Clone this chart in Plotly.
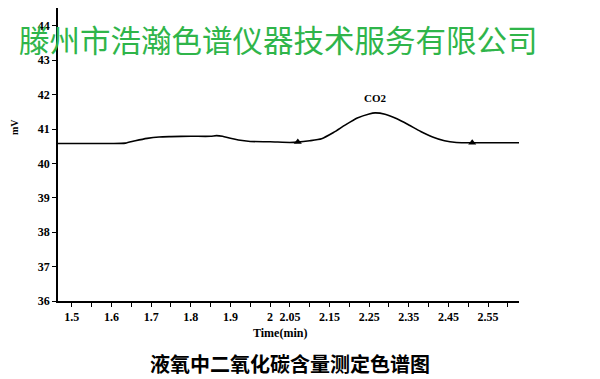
import plotly.graph_objects as go

# Chromatogram trace (time in min, signal in mV)
time_min = [1.465, 1.50, 1.55, 1.60, 1.635, 1.66, 1.69, 1.72, 1.75, 1.80, 1.85, 1.865, 1.88,
            1.90, 1.92, 1.95, 2.00, 2.05, 2.07, 2.10, 2.13, 2.16, 2.19, 2.22, 2.25, 2.265,
            2.29, 2.32, 2.35, 2.38, 2.41, 2.44, 2.47, 2.51, 2.55, 2.60, 2.628]
signal_mv = [40.58, 40.58, 40.58, 40.58, 40.59, 40.66, 40.73, 40.77, 40.78, 40.79, 40.79, 40.81, 40.79,
             40.73, 40.68, 40.64, 40.63, 40.61, 40.62, 40.66, 40.72, 40.90, 41.12, 41.32, 41.44, 41.47,
             41.43, 41.30, 41.12, 40.93, 40.77, 40.66, 40.61, 40.60, 40.60, 40.60, 40.60]

# Peak integration markers (start / end)
marker_time = [2.07, 2.51]
marker_mv = [40.62, 40.60]

peak_label = "CO2"
peak_time = 2.265
peak_label_mv = 41.9

x_tickvals = [1.5, 1.6, 1.7, 1.8, 1.9, 2.0, 2.05, 2.15, 2.25, 2.35, 2.45, 2.55]
x_ticktext = ["1.5", "1.6", "1.7", "1.8", "1.9", "2", "2.05", "2.15", "2.25", "2.35", "2.45", "2.55"]
y_tickvals = [36, 37, 38, 39, 40, 41, 42, 43, 44]

serif = "Liberation Serif"

fig = go.Figure()
fig.add_trace(go.Scatter(x=time_min, y=signal_mv, mode="lines",
                         line=dict(color="black", width=1.6, shape="spline", smoothing=0.6),
                         hoverinfo="skip", showlegend=False))
fig.add_trace(go.Scatter(x=marker_time, y=marker_mv, mode="markers",
                         marker=dict(symbol="triangle-up", size=7, color="black"),
                         showlegend=False))

fig.update_layout(
    width=600, height=379,
    margin=dict(l=50, r=89, t=0, b=86, autoexpand=False),
    paper_bgcolor="white", plot_bgcolor="white",
    xaxis=dict(range=[1.465, 2.628], tickvals=x_tickvals, ticktext=x_ticktext,
               showgrid=False, zeroline=False, showline=True, linecolor="black", linewidth=1.5,
               ticks="outside", ticklen=4, tickcolor="black", tickwidth=1.2,
               minor=dict(dtick=0.05, tick0=1.5, ticks="outside", ticklen=4, tickcolor="black"),
               tickfont=dict(family=serif, size=12, color="black", weight="bold")),
    yaxis=dict(range=[36, 44.52], tickvals=y_tickvals,
               showgrid=False, zeroline=False, showline=True, linecolor="black", linewidth=1.5,
               ticks="outside", ticklen=4, tickcolor="black", tickwidth=1.2,
               tickfont=dict(family=serif, size=12, color="black", weight="bold")),
    annotations=[
        dict(text=peak_label, x=peak_time, y=peak_label_mv, xref="x", yref="y", showarrow=False,
             xanchor="center", yanchor="middle",
             font=dict(family=serif, size=11, color="black", weight="bold")),
        dict(text="mV", x=-0.0933, y=41.06, xref="paper", yref="y", showarrow=False, textangle=-90,
             xanchor="center", yanchor="middle",
             font=dict(family=serif, size=10, color="black", weight="bold")),
        dict(text="Time(min)", x=0.4816, y=-0.109, xref="paper", yref="paper", showarrow=False,
             xanchor="center", yanchor="middle",
             font=dict(family=serif, size=12, color="black", weight="bold")),
        dict(text="液氧中二氧化碳含量测定色谱图", x=0.503, y=-0.2150, xref="paper", yref="paper",
             showarrow=False, xanchor="center", yanchor="middle",
             font=dict(family="Noto Sans CJK SC", size=20, color="black", weight="bold")),
        dict(text="滕州市浩瀚色谱仪器技术服务有限公司", x=0.479, y=0.894, xref="paper", yref="paper",
             showarrow=False, xanchor="center", yanchor="middle",
             font=dict(family="Noto Sans CJK SC", size=30.5, color="#2fb54a")),
    ],
)

fig.write_html("out.html")
